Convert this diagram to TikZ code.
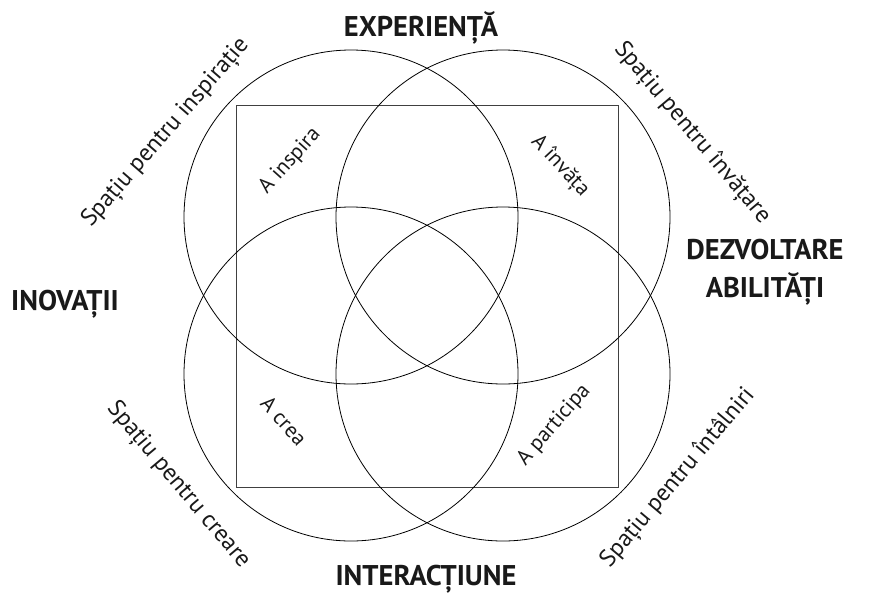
\documentclass[tikz,border=0pt]{standalone}
\usepackage{fontspec}
\setmainfont{PT Sans}
\begin{document}
\begin{tikzpicture}[x=1pt,y=-1pt,
  ring/.style={draw=black, line width=0.8pt, circle, minimum size=334pt, inner sep=0pt},
  frame/.style={draw=black!75, line width=1pt, minimum width=382pt, minimum height=382pt, inner sep=0pt},
  head/.style={font=\bfseries\fontsize{28.5}{38}\selectfont, text=black!90, align=center, inner sep=0pt, anchor=base},
  outerlbl/.style={font=\fontsize{24}{26}\selectfont, text=black!90, inner sep=0pt},
  innerlbl/.style={font=\fontsize{21.5}{24}\selectfont, text=black!90, inner sep=0pt}]
\useasboundingbox (0,0) rectangle (869,592);
\node[frame] (sq) at (427,296) {};
\node[ring] (tl) at (351,217) {};
\node[ring] (tr) at (503,217) {};
\node[ring] (bl) at (351,374) {};
\node[ring] (br) at (503,374) {};
\node[head] (exp) at (421,36) {EXPERIENȚĂ};
\node[head] (ino) at (65,310) {INOVAȚII};
\node[head] (dez) at (765,297) {DEZVOLTARE\\ABILITĂȚI};
\node[head] (int) at (426,585) {INTERACȚIUNE};
\node[outerlbl, rotate=49] (sinsp) at (166,133) {Spațiu pentru inspirație};
\node[outerlbl, rotate=-50] (sinv) at (692,133) {Spațiu pentru învățare};
\node[outerlbl, rotate=-50] (screa) at (178,485) {Spațiu pentru creare};
\node[outerlbl, rotate=50] (sint) at (678,478) {Spațiu pentru întâlniri};
\node[innerlbl, rotate=48] (ainsp) at (290,161) {A inspira};
\node[innerlbl, rotate=-47] (ainv) at (560,166) {A învăța};
\node[innerlbl, rotate=-48] (acrea) at (284,421) {A crea};
\node[innerlbl, rotate=49] (apart) at (554,425) {A participa};
\end{tikzpicture}
\end{document}
